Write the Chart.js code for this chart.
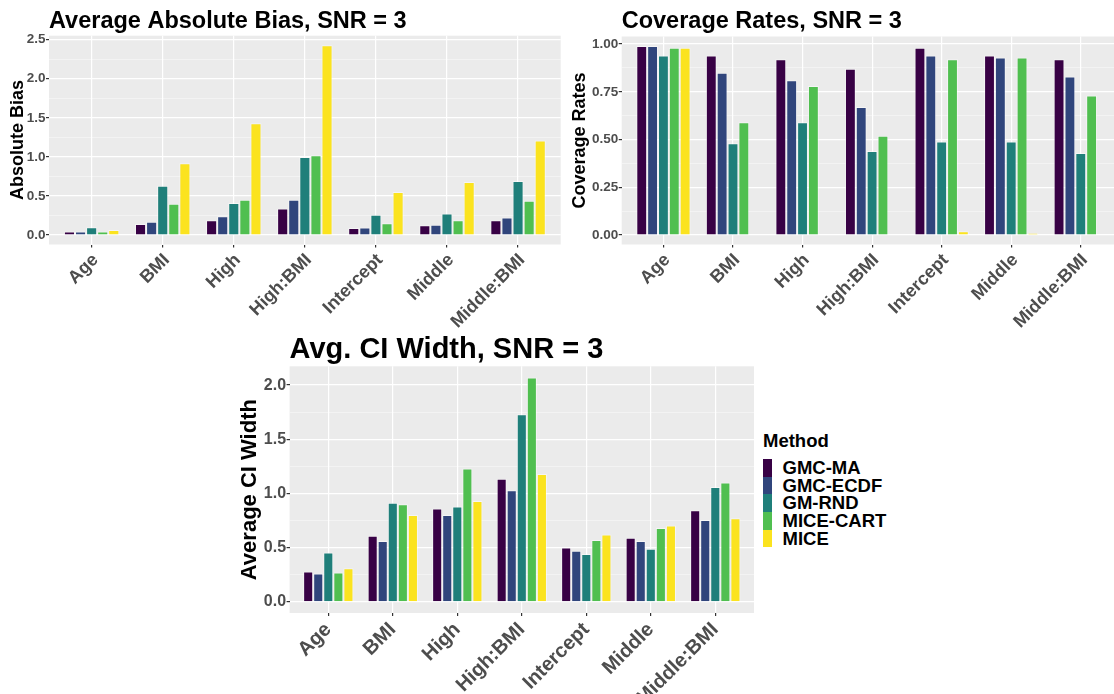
<!DOCTYPE html>
<html>
<head>
<meta charset="utf-8">
<script src="https://cdn.jsdelivr.net/npm/chart.js@4.4.1/dist/chart.umd.min.js"></script>
<style>
  html, body { margin: 0; padding: 0; background: #fff; }
  body { width: 1114px; height: 694px; position: relative; overflow: hidden;
         font-family: "Liberation Sans", Arial, sans-serif; }
  canvas { position: absolute; }
  .legend-title, .legend-label { position: absolute; font-weight: bold; color: #000; white-space: nowrap; }
  .legend-swatch { position: absolute; }
</style>
</head>
<body>
<canvas id="biasChart" width="564" height="330" style="left:0;top:0"></canvas>
<canvas id="coverageChart" width="570" height="330" style="left:562px;top:0"></canvas>
<canvas id="widthChart" width="540" height="364" style="left:220px;top:330px"></canvas>
<div id="legend"></div>
<script>
// ===== DATA =====
const categories = ["Age", "BMI", "High", "High:BMI", "Intercept", "Middle", "Middle:BMI"];
const methods = ["GMC-MA", "GMC-ECDF", "GM-RND", "MICE-CART", "MICE"];
const methodColors = ["#380145", "#30457c", "#1f7f7a", "#50bf50", "#fbe31f"];

// one row per method, one column per category
const biasValues = [
  [0.045, 0.14, 0.19, 0.34, 0.09, 0.125, 0.19],
  [0.045, 0.17, 0.24, 0.45, 0.095, 0.13, 0.225],
  [0.10, 0.63, 0.41, 1.00, 0.26, 0.275, 0.69],
  [0.045, 0.40, 0.45, 1.02, 0.15, 0.19, 0.44],
  [0.065, 0.92, 1.43, 2.43, 0.55, 0.68, 1.21]
];
const coverageValues = [
  [0.99, 0.94, 0.92, 0.87, 0.98, 0.94, 0.92],
  [0.99, 0.85, 0.81, 0.67, 0.94, 0.93, 0.83],
  [0.94, 0.48, 0.59, 0.44, 0.49, 0.49, 0.43],
  [0.98, 0.59, 0.78, 0.52, 0.92, 0.93, 0.73],
  [0.98, 0.003, 0.003, 0.003, 0.02, 0.01, 0.003]
];
const widthValues = [
  [0.28, 0.61, 0.86, 1.135, 0.50, 0.59, 0.845],
  [0.26, 0.56, 0.80, 1.03, 0.47, 0.56, 0.755],
  [0.455, 0.915, 0.88, 1.73, 0.44, 0.49, 1.06],
  [0.27, 0.90, 1.23, 2.07, 0.57, 0.68, 1.10],
  [0.31, 0.80, 0.93, 1.18, 0.62, 0.705, 0.77]
];

const biasTicks = [0, 0.5, 1, 1.5, 2, 2.5];
const biasTickLabels = ["0.0", "0.5", "1.0", "1.5", "2.0", "2.5"];
const coverageTicks = [0, 0.25, 0.5, 0.75, 1];
const coverageTickLabels = ["0.00", "0.25", "0.50", "0.75", "1.00"];
const widthTicks = [0, 0.5, 1, 1.5, 2];
const widthTickLabels = ["0.0", "0.5", "1.0", "1.5", "2.0"];

const FONT = "'Liberation Sans', Arial, sans-serif";

// grey panel + left aligned title, ggplot style
const panelPlugin = {
  id: "panel",
  beforeDraw(chart) {
    const a = chart.chartArea, ctx = chart.ctx;
    ctx.save();
    ctx.fillStyle = "#EBEBEB";
    ctx.fillRect(a.left, a.top, a.right - a.left, a.bottom - a.top);
    ctx.restore();
  },
  afterDraw(chart, args, opts) {
    const ctx = chart.ctx;
    ctx.save();
    ctx.font = "bold " + opts.size + "px " + FONT;
    ctx.fillStyle = "#000";
    ctx.textAlign = "left";
    ctx.textBaseline = "alphabetic";
    ctx.fillText(opts.text, chart.chartArea.left, opts.baseline);
    ctx.restore();
  }
};

function drawPanel(id, p) {
  // minor grid lines sit halfway between the labelled ones
  const minor = new Set();
  for (let i = 0; i < p.ticks.length - 1; i++) minor.add((p.ticks[i] + p.ticks[i + 1]) / 2);
  const allTicks = [...p.ticks, ...minor].sort((a, b) => a - b);
  const isMinor = c => c.tick && minor.has(c.tick.value);

  const top = Math.max(...p.values.flat());

  new Chart(document.getElementById(id), {
    type: "bar",
    data: {
      labels: categories,
      datasets: methods.map((m, i) => ({
        label: m,
        data: p.values[i],
        backgroundColor: methodColors[i],
        borderColor: "rgba(255,255,255,0.5)",
        borderWidth: 1,
        categoryPercentage: 0.78,
        barPercentage: 1
      }))
    },
    plugins: [panelPlugin],
    options: {
      responsive: false,
      animation: false,
      layout: { padding: p.padding },
      plugins: {
        legend: { display: false },
        tooltip: { enabled: false },
        panel: { text: p.title, size: p.titleSize, baseline: p.titleBaseline }
      },
      scales: {
        x: {
          grid: { offset: false, color: "#fff", lineWidth: 1.2, tickColor: "#333", tickLength: 3 },
          border: { display: false },
          ticks: {
            autoSkip: false, maxRotation: 45, minRotation: 45, padding: p.xPad,
            labelOffset: p.xShift,
            color: "#4D4D4D",
            font: { family: FONT, weight: "bold", size: p.xSize }
          },
          // ggplot keeps 0.6 of a category free on both sides
          afterBuildTicks: s => { s._startValue = -0.6; s._valueRange = categories.length - 1 + 1.2; },
          afterFit: s => { s.height = p.xHeight; }
        },
        y: {
          min: -0.05 * top,
          max: 1.05 * top,
          afterBuildTicks: s => { s.ticks = allTicks.map(v => ({ value: v })); },
          afterFit: s => { s.width = p.yWidth; },
          grid: {
            color: c => isMinor(c) ? "rgba(255,255,255,0.7)" : "#fff",
            lineWidth: c => isMinor(c) ? 0.6 : 1.2,
            tickColor: c => isMinor(c) ? "rgba(0,0,0,0)" : "#333",
            tickLength: 3
          },
          border: { display: false },
          ticks: {
            padding: 0.5,
            color: "#4D4D4D",
            font: { family: FONT, weight: "bold", size: p.ySize },
            callback: v => {
              const k = p.ticks.indexOf(v);
              return k < 0 ? "" : p.tickLabels[k];
            }
          },
          title: {
            display: true,
            text: p.yTitle,
            color: "#000",
            font: { family: FONT, weight: "bold", size: p.yTitleSize },
            padding: { top: p.yTitlePad, bottom: 0 }
          }
        }
      }
    }
  });
}

drawPanel("biasChart", {
  values: biasValues, ticks: biasTicks, tickLabels: biasTickLabels,
  title: "Average Absolute Bias, SNR = 3", titleSize: 23.5, titleBaseline: 28,
  yTitle: "Absolute Bias", yTitleSize: 18, yTitlePad: 7.1,
  padding: { left: 0, top: 35.7, right: 3.3, bottom: 0 },
  yWidth: 49, xHeight: 85.5, xSize: 18, ySize: 13.5, xPad: 2, xShift: 4
});

drawPanel("coverageChart", {
  values: coverageValues, ticks: coverageTicks, tickLabels: coverageTickLabels,
  title: "Coverage Rates, SNR = 3", titleSize: 23.5, titleBaseline: 28,
  yTitle: "Coverage Rates", yTitleSize: 18, yTitlePad: 7.2,
  padding: { left: 0, top: 36.5, right: 9.5, bottom: 0 },
  yWidth: 59.7, xHeight: 85.5, xSize: 18, ySize: 13.5, xPad: 2, xShift: 4
});

drawPanel("widthChart", {
  values: widthValues, ticks: widthTicks, tickLabels: widthTickLabels,
  title: "Avg. CI Width, SNR = 3", titleSize: 29, titleBaseline: 28,
  yTitle: "Average CI Width", yTitleSize: 22, yTitlePad: 16.6,
  padding: { left: 0, top: 36.3, right: 6, bottom: 0 },
  yWidth: 69.6, xHeight: 81, xSize: 20, ySize: 16, xPad: 2, xShift: 0
});

// ===== LEGEND =====
const legend = document.getElementById("legend");
const legendTitle = document.createElement("div");
legendTitle.className = "legend-title";
legendTitle.textContent = "Method";
legendTitle.style.cssText = "left:763px;top:432px;font-size:18.5px;line-height:18.5px";
legend.appendChild(legendTitle);

methods.forEach((m, i) => {
  const y = 459 + 17.7 * i;
  const sw = document.createElement("div");
  sw.className = "legend-swatch";
  sw.style.cssText = `left:763px;top:${y}px;width:9px;height:17.7px;background:${methodColors[i]}`;
  legend.appendChild(sw);
  const lb = document.createElement("div");
  lb.className = "legend-label";
  lb.textContent = m;
  lb.style.cssText = `left:782.5px;top:${y}px;font-size:18.5px;line-height:17.7px`;
  legend.appendChild(lb);
});
</script>
</body>
</html>
